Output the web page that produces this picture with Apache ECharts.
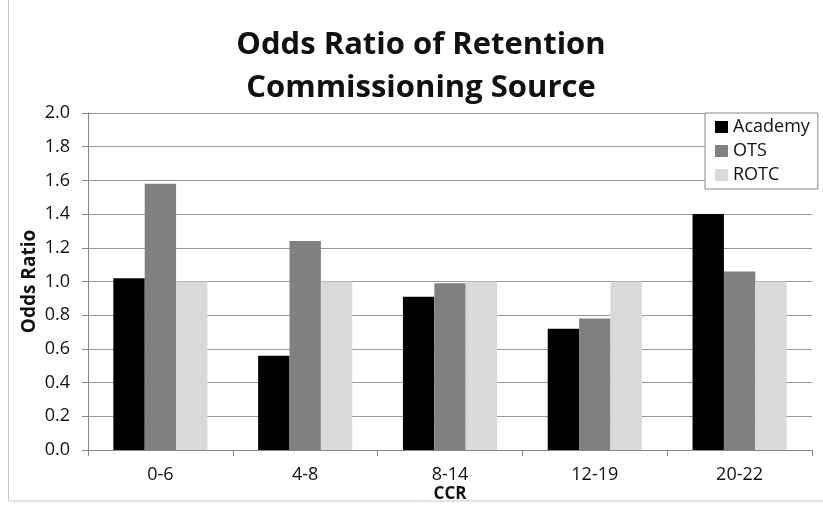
<!DOCTYPE html>
<html><head><meta charset="utf-8">
<script src="https://cdn.jsdelivr.net/npm/echarts@6/dist/echarts.min.js"></script>
<style>html,body{margin:0;padding:0;background:#fff}#c{width:823px;height:508px}</style>
</head><body><div id="c"></div>
<script>
const categories = ['0-6', '4-8', '8-14', '12-19', '20-22'];
const academy = [1.02, 0.56, 0.91, 0.72, 1.40];
const ots = [1.58, 1.24, 0.99, 0.78, 1.06];
const rotc = [1.00, 1.00, 1.00, 1.00, 1.00];
const seriesNames = ['Academy', 'OTS', 'ROTC'];
const yTicks = {min: 0, max: 2, interval: 0.2};

const FONT = 'Open Sans';
const chart = echarts.init(document.getElementById('c'));
chart.setOption({
  animation: false,
  backgroundColor: '#fff',
  title: {
    text: 'Odds Ratio of Retention\nCommissioning Source',
    left: 416, top: 19, textAlign: 'center',
    textStyle: {fontFamily: FONT, fontWeight: 'bold', fontSize: 31, lineHeight: 43, color: '#111'}
  },
  graphic: [{type: 'rect', shape: {x: 8.5, y: -1, width: 830, height: 502}, style: {fill: null, stroke: '#c8c8c8', lineWidth: 1}, silent: true}],
  legend: {
    orient: 'vertical', left: 705, top: 113,
    padding: [2, 8, 2, 10], itemGap: 0,
    itemWidth: 13, itemHeight: 12, icon: 'rect',
    backgroundColor: '#fff', borderColor: '#888', borderWidth: 1,
    textStyle: {fontFamily: FONT, fontSize: 18, lineHeight: 24, color: '#111'},
    data: seriesNames
  },
  grid: {left: 88, right: 11, top: 113, bottom: 58, containLabel: false, outerBoundsMode: 'none'},
  xAxis: {
    type: 'category', data: categories,
    name: 'CCR', nameLocation: 'middle', nameGap: 36, nameMoveOverlap: false,
    nameTextStyle: {fontFamily: FONT, fontWeight: 'bold', fontSize: 17, color: '#111'},
    axisLine: {lineStyle: {color: '#888'}},
    axisTick: {show: true, length: 6, lineStyle: {color: '#888'}},
    axisLabel: {fontFamily: FONT, fontSize: 18, color: '#111', margin: 16}
  },
  yAxis: {
    type: 'value', min: yTicks.min, max: yTicks.max, interval: yTicks.interval,
    name: 'Odds Ratio', nameLocation: 'middle', nameGap: 49, nameMoveOverlap: false,
    nameTextStyle: {fontFamily: FONT, fontWeight: 'bold', fontSize: 19, color: '#111'},
    axisLine: {show: true, lineStyle: {color: '#888'}},
    axisTick: {show: true, length: 6, lineStyle: {color: '#888'}},
    splitLine: {lineStyle: {color: '#999'}},
    axisLabel: {fontFamily: FONT, fontSize: 18, color: '#111', margin: 18, formatter: v => v.toFixed(1)}
  },
  series: [
    {name: seriesNames[0], type: 'bar', data: academy, itemStyle: {color: '#000'}, barGap: '0%', barCategoryGap: '35%'},
    {name: seriesNames[1], type: 'bar', data: ots, itemStyle: {color: '#808080'}},
    {name: seriesNames[2], type: 'bar', data: rotc, itemStyle: {color: '#d9d9d9'}}
  ]
});
</script></body></html>
